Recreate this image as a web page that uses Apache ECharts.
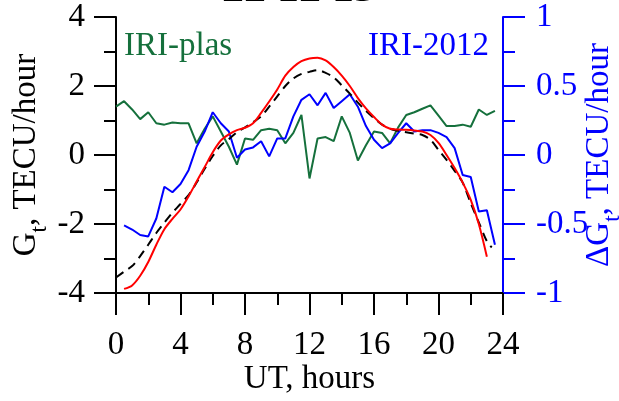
<!DOCTYPE html>
<html><head><meta charset="utf-8">
<script src="https://cdn.jsdelivr.net/npm/echarts@6/dist/echarts.min.js"></script>
<style>html,body{margin:0;padding:0;background:#fff}#c{width:619px;height:401px}</style>
</head><body><div id="c"></div>
<script>
// UT hours and values
const redHours = [0.5,1,1.5,2,2.5,3,3.5,4,4.5,5,5.5,6,6.5,7,7.5,8,8.5,9,9.5,10,10.5,11,11.5,12,12.5,13,13.5,14,14.5,15,15.5,16,16.5,17,17.5,18,18.5,19,19.5,20,20.5,21,21.5,22,22.5,23];
const redGt = [-3.88,-3.78,-3.5,-3.1,-2.6,-2.15,-1.85,-1.58,-1.2,-0.77,-0.35,0.08,0.42,0.6,0.72,0.79,0.92,1.22,1.55,1.9,2.3,2.55,2.72,2.8,2.82,2.74,2.55,2.3,2.0,1.65,1.35,1.1,0.88,0.76,0.74,0.73,0.71,0.68,0.58,0.35,0.0,-0.38,-0.8,-1.3,-2.0,-2.95];
const blackHours = [0,0.5,1,1.5,2,2.5,3,3.5,4,4.5,5,5.5,6,6.5,7,7.5,8,8.5,9,9.5,10,10.5,11,11.5,12,12.5,13,13.5,14,14.5,15,15.5,16,16.5,17,17.5,18,18.5,19,19.5,20,20.5,21,21.5,22,22.5,23,23.3];
const blackGt = [-3.55,-3.38,-3.22,-2.93,-2.6,-2.26,-1.96,-1.67,-1.42,-1.16,-0.8,-0.4,-0.03,0.28,0.46,0.66,0.8,0.95,1.12,1.4,1.7,2.0,2.22,2.35,2.41,2.46,2.38,2.25,2.02,1.78,1.52,1.28,1.07,0.88,0.76,0.7,0.66,0.62,0.58,0.44,0.15,-0.14,-0.46,-0.8,-1.4,-1.95,-2.5,-2.68];
const blueHours = [0.5,1,1.5,2,2.5,3,3.5,4,4.5,5,5.5,6,6.5,7,7.5,8,8.5,9,9.5,10,10.5,11,11.5,12,12.5,13,13.5,14,14.5,15,15.5,16,16.5,17,17.5,18,18.5,19,19.5,20,20.5,21,21.5,22,22.5,23,23.5];
const iri2012 = [-0.51,-0.54,-0.58,-0.59,-0.46,-0.23,-0.27,-0.21,-0.11,0.06,0.17,0.31,0.23,0.17,-0.02,0.04,0.055,0.10,-0.01,0.12,0.12,0.28,0.40,0.44,0.36,0.45,0.34,0.39,0.44,0.35,0.21,0.11,0.05,0.085,0.16,0.23,0.17,0.18,0.18,0.16,0.13,0.05,-0.145,-0.16,-0.41,-0.40,-0.65];
const greenHours = [0,0.5,1,1.5,2,2.5,3,3.5,4,4.5,5,5.5,6,6.5,7,7.5,8,8.5,9,9.5,10,10.5,11,11.5,12,12.5,13,13.5,14,14.5,15,15.5,16,16.5,17,17.5,18,18.5,19,19.5,20,20.5,21,21.5,22,22.5,23,23.5];
const iriPlas = [0.35,0.39,0.33,0.26,0.31,0.23,0.22,0.235,0.23,0.23,0.085,0.19,0.28,0.17,0.06,-0.07,0.12,0.11,0.18,0.19,0.18,0.085,0.16,0.29,-0.17,0.12,0.13,0.10,0.28,0.16,-0.04,0.07,0.17,0.16,0.085,0.20,0.29,0.31,0.335,0.36,0.285,0.21,0.21,0.22,0.205,0.33,0.29,0.32];
const xTicks = [0,4,8,12,16,20,24];

const pair = (h, v) => h.map((x, i) => [x, v[i]]);
const FONT = '"Liberation Serif","Times New Roman",serif';
const GREEN = '#15703c', BLUE = '#0000ff';

const chart = echarts.init(document.getElementById('c'), null, {renderer: 'canvas'});
chart.setOption({
  animation: false,
  backgroundColor: '#fff',
  grid: {left: 116, right: 116, top: 17, bottom: 108, containLabel: false, outerBoundsMode: 'none'},
  xAxis: {
    type: 'value', min: 0, max: 24, interval: 4,
    name: 'UT, hours', nameLocation: 'middle', nameGap: 70, nameMoveOverlap: false,
    nameTextStyle: {fontFamily: FONT, fontSize: 33, color: '#000'},
    axisLine: {show: true, onZero: false, lineStyle: {color: '#000', width: 2}},
    axisTick: {show: true, length: 22, lineStyle: {color: '#000', width: 2}},
    minorTick: {show: true, splitNumber: 2, length: 12, lineStyle: {color: '#000', width: 2}},
    axisLabel: {fontFamily: FONT, fontSize: 33, color: '#000', margin: 36,
      formatter: v => xTicks.includes(v) ? String(v) : ''},
    splitLine: {show: false}
  },
  yAxis: [{
    type: 'value', min: -4, max: 4, interval: 2, position: 'left',
    name: 'G{s|t}, TECU/hour', nameLocation: 'middle', nameGap: 73, nameRotate: 90, nameMoveOverlap: false,
    nameTextStyle: {fontFamily: FONT, fontSize: 33, color: '#000',
      rich: {s: {fontFamily: FONT, fontSize: 23, color: '#000', verticalAlign: 'bottom', padding: [0,0,-8,0]}}},
    axisLine: {show: true, onZero: false, lineStyle: {color: '#000', width: 2}},
    axisTick: {show: true, length: 22, lineStyle: {color: '#000', width: 2}},
    minorTick: {show: true, splitNumber: 2, length: 12, lineStyle: {color: '#000', width: 2}},
    axisLabel: {fontFamily: FONT, fontSize: 33, color: '#000', margin: 31},
    splitLine: {show: false}
  }, {
    type: 'value', min: -1, max: 1, interval: 0.5, position: 'right',
    name: '\u0394G{s|t}, TECU/hour', nameLocation: 'middle', nameGap: 80, nameRotate: 90, nameMoveOverlap: false,
    nameTextStyle: {fontFamily: FONT, fontSize: 33, color: BLUE,
      rich: {s: {fontFamily: FONT, fontSize: 23, color: BLUE, verticalAlign: 'bottom', padding: [0,0,-8,0]}}},
    axisLine: {show: true, onZero: false, lineStyle: {color: BLUE, width: 2}},
    axisTick: {show: true, length: 22, lineStyle: {color: BLUE, width: 2}},
    minorTick: {show: true, splitNumber: 2, length: 12, lineStyle: {color: BLUE, width: 2}},
    axisLabel: {fontFamily: FONT, fontSize: 33, color: BLUE, margin: 33},
    splitLine: {show: false}
  }],
  graphic: [
    {type: 'text', left: 124, top: 30, style: {text: 'IRI-plas', font: '33px ' + FONT, fill: GREEN}},
    {type: 'text', left: 368, top: 30, style: {text: 'IRI-2012', font: '33px ' + FONT, fill: BLUE}},
    {type: 'text', x: 222, y: -10, style: {text: '22 12 15', font: 'bold 44px ' + FONT, fill: '#000', textVerticalAlign: 'middle'}}
  ],
  series: [
    {name: 'IRI-plas', type: 'line', yAxisIndex: 1, data: pair(greenHours, iriPlas), showSymbol: false,
      lineStyle: {color: GREEN, width: 2}, z: 2},
    {name: 'IRI-2012', type: 'line', yAxisIndex: 1, data: pair(blueHours, iri2012), showSymbol: false,
      lineStyle: {color: BLUE, width: 2}, z: 3},
    {name: 'Gt dashed', type: 'line', yAxisIndex: 0, data: pair(blackHours, blackGt), showSymbol: false, smooth: 0.3,
      lineStyle: {color: '#000', width: 2, type: [9, 6]}, z: 4},
    {name: 'Gt', type: 'line', yAxisIndex: 0, data: pair(redHours, redGt), showSymbol: false, smooth: 0.3,
      lineStyle: {color: '#ff0000', width: 2}, z: 5}
  ]
});
</script></body></html>
